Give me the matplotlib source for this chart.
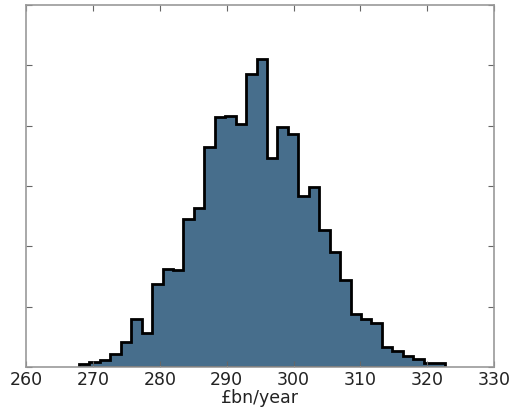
import numpy as np
import matplotlib
matplotlib.use("Agg")
import matplotlib.pyplot as plt

# histogram counts (35 equal bins)
bin_lo = 267.9
bin_hi = 322.6
counts = [5, 9, 12, 22, 41, 79, 56, 138, 163, 161, 245, 263, 364, 414, 416, 402,
          485, 510, 347, 398, 386, 283, 299, 227, 190, 144, 88, 79, 73, 34, 27,
          18, 14, 6, 6]
x_ticks = [260, 270, 280, 290, 300, 310, 320, 330]

edges = np.linspace(bin_lo, bin_hi, len(counts) + 1)

fig = plt.figure(figsize=(5.12, 4.11), dpi=100)
ax = fig.add_axes([0.051, 0.107, 0.914, 0.881])
ax.hist(edges[:-1], bins=edges, weights=counts, histtype='stepfilled',
        facecolor='#476e8c', edgecolor='black', linewidth=2)

ax.set_xlim(260, 330)
ax.set_ylim(0, 600)
ax.set_xticks(x_ticks)
ax.set_yticks(np.arange(0, 601, 100))
ax.set_yticklabels([])
ax.tick_params(direction='in', top=True, right=True, length=4, color='#666666',
               labelsize=12.5, labelcolor='#222222', pad=3)
for s in ax.spines.values():
    s.set_color('#999999')
    s.set_linewidth(1.2)
ax.set_xlabel('£bn/year', fontsize=12.5, color='#222222', labelpad=0)

fig.savefig('out.png', dpi=100)
